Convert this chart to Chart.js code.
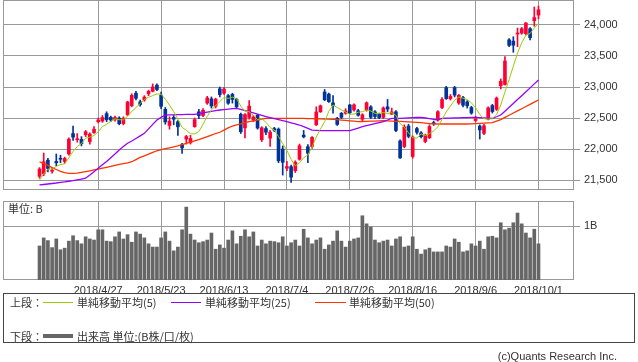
<!DOCTYPE html>
<html>
<head>
<meta charset="utf-8">
<script src="https://cdn.jsdelivr.net/npm/chart.js@4.4.0/dist/chart.umd.min.js"></script>
<style>
  body { margin: 0; background: #fff; width: 638px; height: 362px; position: relative; overflow: hidden;
         font-family: "Liberation Sans", Arial, sans-serif; font-size: 11px; color: #333; }
  canvas { position: absolute; left: 0; }
  #price { top: 0; }
  #volume { top: 196px; }
  .jp { font-family: "Noto Sans CJK JP", sans-serif; }
  #unit { position: absolute; left: 8px; top: 201px; line-height: 14px; }
  #legend { position: absolute; left: 3px; top: 293px; width: 630px; height: 48px; border: 1px solid #444; }
  #legend span { position: absolute; line-height: 14px; white-space: nowrap; }
  #legend i { position: absolute; height: 0; }
  #copy { position: absolute; right: 21px; top: 349px; line-height: 14px; }
</style>
</head>
<body>
<canvas id="price" width="638" height="191"></canvas>
<canvas id="volume" width="638" height="100"></canvas>
<div id="unit" class="jp">単位: B</div>
<div id="legend" class="jp">
  <span style="left:6px;top:1px">上段：</span>
  <i style="left:39px;top:8px;width:30px;border-top:1px solid #99cc00"></i>
  <span style="left:73px;top:1px">単純移動平均(5)</span>
  <i style="left:167px;top:8px;width:30px;border-top:1px solid #9900ff"></i>
  <span style="left:201px;top:1px">単純移動平均(25)</span>
  <i style="left:311px;top:8px;width:31px;border-top:1px solid #ff3300"></i>
  <span style="left:345px;top:1px">単純移動平均(50)</span>
  <span style="left:6px;top:35px">下段：</span>
  <i style="left:39px;top:40px;width:30px;border-top:4px solid #666"></i>
  <span style="left:73px;top:35px">出来高 単位:(B株/口/枚)</span>
</div>
<div id="copy">(c)Quants Research Inc.</div>
<script>
const dates = [
  '4/9','4/10','4/11','4/12','4/13','4/16','4/17','4/18','4/19','4/20','4/23','4/24','4/25','4/26','4/27',
  '5/1','5/2','5/7','5/8','5/9','5/10','5/11','5/14','5/15','5/16','5/17','5/18','5/21','5/22','5/23','5/24','5/25','5/28','5/29','5/30','5/31',
  '6/1','6/4','6/5','6/6','6/7','6/8','6/11','6/12','6/13','6/14','6/15','6/18','6/19','6/20','6/21','6/22','6/25','6/26','6/27','6/28','6/29',
  '7/2','7/3','7/4','7/5','7/6','7/9','7/10','7/11','7/12','7/13','7/17','7/18','7/19','7/20','7/23','7/24','7/25','7/26','7/27','7/30','7/31',
  '8/1','8/2','8/3','8/6','8/7','8/8','8/9','8/10','8/13','8/14','8/15','8/16','8/17','8/20','8/21','8/22','8/23','8/24','8/27','8/28','8/29','8/30','8/31',
  '9/3','9/4','9/5','9/6','9/7','9/10','9/11','9/12','9/13','9/14','9/18','9/19','9/20','9/21','9/25','9/26','9/27','9/28',
  '10/1'
].map(d => '2018/' + d);
const tickLabels = ['2018/4/27', '2018/5/23', '2018/6/13', '2018/7/4', '2018/7/26', '2018/8/16', '2018/9/6', '2018/10/1'];
const priceTicks = [21500, 22000, 22500, 23000, 23500, 24000];
const volumeTicks = [1];

const opens = [21560,21600,21820,21640,21800,21850,21800,21920,22250,22150,
  22155,22230,22120,22265,22440,22450,22570,22510,22470,22500,
  22410,22550,22700,22900,22760,22790,22890,22930,23030,22870,
  22640,22380,22510,22440,22070,22160,22100,22360,22600,22540,
  22740,22810,22690,22970,22900,22860,22880,22800,22560,22340,
  22510,22470,22545,22150,22330,22175,22330,22320,22000,21690,
  21715,21650,21835,22225,22037,22040,22390,22600,22920,22885,
  22745,22495,22575,22576,22710,22630,22617,22480,22630,22680,
  22600,22560,22510,22680,22560,22600,22130,22040,22370,21880,
  22330,22260,22120,22180,22420,22470,22670,22990,22810,22990,
  22740,22830,22760,22670,22460,22370,22253,22480,22700,22640,
  23020,23040,23760,23740,23855,23870,23860,23940,24070,24160];
const highs = [21700,21935,21850,21700,21920,21900,21870,22180,22370,22250,
  22200,22300,22260,22360,22500,22540,22600,22530,22530,22520,
  22520,22770,22890,22930,22790,22860,22950,23050,23050,22920,
  22670,22520,22540,22460,22090,22220,22220,22500,22640,22650,
  22850,22840,22820,23000,22990,22880,22900,22820,22580,22570,
  22780,22540,22560,22360,22360,22300,22350,22340,22050,21800,
  21740,21810,22080,22300,22070,22200,22680,22710,22960,22900,
  22860,22510,22590,22650,22720,22730,22640,22570,22760,22700,
  22620,22580,22680,22800,22660,22620,22150,22390,22400,22210,
  22350,22280,22240,22390,22450,22620,22830,23010,22880,23010,
  22880,22850,22780,22690,22530,22390,22400,22680,22720,22840,
  23130,23490,23780,23810,23950,23960,24040,23960,24290,24306];
const lows = [21530,21570,21630,21610,21730,21780,21770,21900,22140,22110,
  22050,22200,22080,22250,22420,22430,22440,22440,22450,22390,
  22390,22540,22680,22790,22690,22770,22860,22920,22940,22650,
  22400,22320,22390,22220,21930,22080,22080,22350,22490,22520,
  22720,22660,22660,22840,22880,22720,22740,22660,22250,22180,
  22480,22440,22320,22120,22230,22040,22280,21780,21580,21650,
  21462,21620,21820,22180,21780,22010,22380,22590,22780,22750,
  22580,22380,22490,22560,22570,22610,22530,22450,22610,22490,
  22490,22490,22490,22600,22560,22280,21850,22020,22180,21850,
  22240,22180,22100,22170,22380,22450,22650,22800,22790,22840,
  22720,22680,22660,22560,22440,22160,22230,22470,22580,22620,
  22970,23030,23650,23560,23650,23850,23840,23760,23980,24100];
const closes = [21678,21794,21687,21660,21778,21835,21847,22158,22191,22162,
  22088,22278,22240,22319,22467,22508,22472,22467,22508,22408,
  22497,22758,22865,22818,22717,22838,22930,23002,22960,22689,
  22437,22450,22481,22358,22018,22201,22171,22475,22539,22625,
  22823,22694,22804,22878,22966,22738,22800,22680,22278,22555,
  22693,22516,22338,22342,22271,22270,22304,21811,21785,21717,
  21546,21788,22052,22196,21932,22187,22597,22697,22794,22764,
  22697,22396,22510,22614,22586,22712,22544,22553,22746,22512,
  22525,22507,22662,22644,22598,22298,21857,22356,22204,22192,
  22270,22199,22219,22362,22410,22601,22799,22813,22848,22869,
  22865,22707,22697,22580,22487,22307,22373,22664,22604,22821,
  23094,23420,23672,23674,23869,23940,24033,23796,24120,24245];
const ma5 = [21500,21601,21674,21677,21719,21751,21761,21856,21962,22039,
  22089,22175,22192,22217,22278,22362,22401,22447,22484,22473,
  22470,22528,22607,22669,22731,22799,22834,22861,22889,22884,
  22804,22708,22603,22483,22349,22302,22246,22245,22281,22402,
  22527,22631,22697,22765,22833,22816,22837,22812,22692,22610,
  22601,22544,22476,22489,22432,22347,22305,22200,22088,21977,
  21833,21729,21778,21860,21903,22031,22193,22322,22441,22608,
  22710,22670,22632,22596,22561,22564,22593,22602,22628,22613,
  22576,22569,22590,22570,22587,22542,22412,22351,22263,22181,
  22176,22244,22217,22248,22292,22358,22478,22597,22694,22786,
  22839,22820,22797,22744,22667,22556,22489,22482,22487,22554,
  22711,22921,23122,23336,23546,23715,23838,23862,23952,24027];
const ma25 = [21420,21428,21436,21444,21452,21462,21470,21480,21490,21503,
  21516,21530,21580,21635,21690,21745,21800,21860,21920,21984,
  22040,22092,22130,22170,22212,22253,22325,22398,22468,22510,
  22548,22550,22552,22553,22555,22557,22558,22560,22572,22584,
  22596,22607,22618,22629,22636,22643,22650,22656,22640,22620,
  22602,22582,22562,22541,22521,22505,22489,22473,22457,22441,
  22423,22405,22387,22360,22333,22306,22302,22298,22295,22295,
  22295,22295,22295,22295,22295,22317,22338,22360,22376,22392,
  22409,22425,22441,22468,22495,22495,22495,22498,22502,22505,
  22508,22511,22500,22490,22478,22468,22495,22497,22499,22501,
  22503,22505,22507,22509,22511,22507,22503,22499,22495,22520,
  22548,22610,22672,22735,22798,22860,22923,22986,23050,23113];
const ma50 = [21795,21765,21735,21700,21670,21640,21620,21608,21608,21610,
  21622,21635,21648,21662,21675,21690,21705,21720,21737,21753,
  21765,21778,21795,21830,21865,21890,21918,21945,21972,21990,
  22005,22020,22036,22050,22070,22090,22110,22130,22150,22175,
  22200,22225,22250,22270,22305,22340,22371,22389,22406,22424,
  22441,22455,22468,22482,22495,22495,22495,22495,22495,22495,
  22495,22495,22495,22493,22491,22489,22487,22485,22483,22481,
  22479,22473,22467,22461,22455,22449,22441,22444,22446,22449,
  22451,22454,22457,22453,22449,22446,22445,22441,22437,22433,
  22429,22425,22418,22410,22403,22403,22403,22403,22403,22403,
  22403,22403,22403,22405,22408,22412,22416,22420,22425,22450,
  22475,22510,22545,22580,22615,22650,22685,22720,22755,22790];
const volume = [0.63,0.78,0.73,0.60,0.76,0.56,0.59,0.72,0.82,0.73,
  0.67,0.80,0.76,0.74,0.93,0.93,0.72,0.71,0.80,0.89,
  0.76,0.84,0.70,0.89,0.85,0.78,0.67,0.61,0.61,0.78,
  0.89,0.72,0.54,0.61,0.93,1.35,0.85,0.74,0.69,0.71,
  0.74,0.87,0.57,0.65,0.59,0.74,0.91,0.67,0.81,0.93,
  0.80,0.89,0.63,0.74,0.67,0.72,0.71,0.69,0.80,0.63,
  0.69,0.74,0.63,0.94,0.78,0.67,0.74,0.78,0.57,0.65,
  0.72,0.91,0.72,0.61,0.72,0.76,0.78,1.19,1.04,0.98,
  0.74,0.69,0.72,0.74,0.63,0.76,0.80,0.61,0.63,0.80,
  0.57,0.48,0.56,0.59,0.52,0.52,0.52,0.63,0.61,0.76,
  0.70,0.52,0.54,0.67,0.63,0.72,0.57,0.80,0.81,0.78,
  1.06,0.93,0.96,1.06,1.24,1.04,0.87,0.78,0.94,0.67];

const UP = '#ff0033', DOWN = '#003399', GRID = '#999';
const FONT = { family: '"Liberation Sans", Arial, sans-serif', size: 11 };
const candleColors = closes.map((c, i) => c >= opens[i] ? UP : DOWN);
const tickIdx = tickLabels.map(t => dates.indexOf(t));
const xy = arr => arr.map((v, i) => ({ x: i, y: v }));

// box around the plot area
const frame = {
  id: 'frame',
  beforeDatasetsDraw(chart) {
    const a = chart.chartArea, ctx = chart.ctx;
    ctx.save();
    ctx.strokeStyle = GRID;
    ctx.lineWidth = 1;
    ctx.strokeRect(a.left + 0.5, a.top + 0.5, a.right - a.left - 1, a.bottom - a.top - 1);
    ctx.restore();
  }
};

function xAxis(showLabels) {
  return {
    type: 'linear', min: -8.71, max: 127.47, offset: false,
    afterBuildTicks: s => { s.ticks = tickIdx.map(v => ({ value: v })); },
    afterFit: s => { s.height = showLabels ? 16 : 0; s.paddingLeft = 0; s.paddingRight = 0; },
    grid: { color: GRID, drawTicks: false, offset: false },
    border: { display: false },
    ticks: { display: showLabels, autoSkip: false, maxRotation: 0, padding: 4, color: '#333', font: FONT,
             callback: v => dates[v] }
  };
}

function yAxis(min, max, ticks, fmt) {
  return {
    position: 'right', min: min, max: max,
    afterBuildTicks: s => { s.ticks = ticks.map(v => ({ value: v })); },
    afterFit: s => { s.width = 64; s.paddingTop = 0; s.paddingBottom = 0; },
    grid: { color: GRID, tickLength: 6 },
    border: { display: false },
    ticks: { padding: 4, color: '#333', font: FONT, callback: fmt }
  };
}

const common = {
  responsive: false, animation: false, devicePixelRatio: 1,
  plugins: { legend: { display: false }, tooltip: { enabled: false } }
};

new Chart(document.getElementById('price'), {
  type: 'bar',
  data: {
    datasets: [
      { type: 'line', data: xy(ma5), borderColor: '#99cc00', borderWidth: 1, pointRadius: 0, tension: 0, order: 0 },
      { type: 'line', data: xy(ma25), borderColor: '#9900ff', borderWidth: 1.3, pointRadius: 0, tension: 0, order: 0 },
      { type: 'line', data: xy(ma50), borderColor: '#ff3300', borderWidth: 1.3, pointRadius: 0, tension: 0, order: 0 },
      { data: opens.map((o, i) => ({ x: i, y: [o, closes[i]] })), backgroundColor: candleColors,
        barThickness: 3, minBarLength: 1, grouped: false, order: 1 },
      { data: lows.map((l, i) => ({ x: i, y: [l, highs[i]] })), backgroundColor: candleColors,
        barThickness: 1, grouped: false, order: 2 }
    ]
  },
  options: {
    ...common,
    layout: { padding: { left: 3, top: 0, right: 0, bottom: 1 } },
    scales: {
      x: xAxis(false),
      y: yAxis(21339, 24403, priceTicks, v => v.toLocaleString('en-US'))
    }
  },
  plugins: [frame]
});

new Chart(document.getElementById('volume'), {
  type: 'bar',
  data: {
    datasets: [
      { data: xy(volume), backgroundColor: '#666', barThickness: 3, grouped: false }
    ]
  },
  options: {
    ...common,
    layout: { padding: { left: 3, top: 5, right: 0, bottom: 0 } },
    scales: {
      x: xAxis(true),
      y: yAxis(0, 1.463, volumeTicks, v => v + 'B')
    }
  },
  plugins: [frame]
});
</script>
</body>
</html>
